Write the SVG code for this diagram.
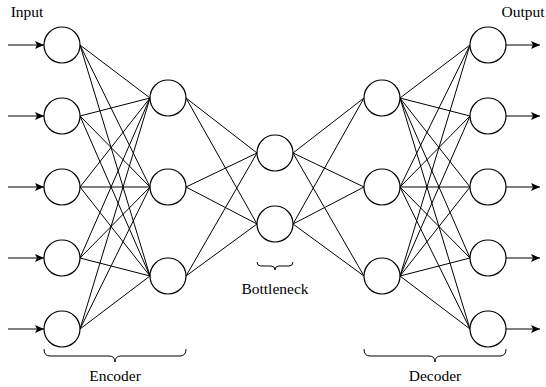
<svg xmlns="http://www.w3.org/2000/svg" width="546" height="387" viewBox="0 0 546 387">
<style>
.n{fill:#fff;stroke:#000;stroke-width:1.2}
.e{stroke:#000;stroke-width:1;fill:none}
.b{stroke:#000;stroke-width:1;fill:none}
.t{font-family:'Liberation Serif','Times New Roman',Times,'DejaVu Serif',serif;font-size:15.5px;fill:#000;text-anchor:middle}
</style>
<defs>
<marker id="a" markerWidth="10" markerHeight="8" refX="9" refY="4" orient="auto" markerUnits="userSpaceOnUse">
<path d="M0,0 L9,4 L0,8 L2,4 Z" fill="#000"/>
</marker>
</defs>
<g id="connectors">
<g class="e">
<path d="M8,45H44" marker-end="url(#a)"/>
<path d="M8,116H44" marker-end="url(#a)"/>
<path d="M8,187H44" marker-end="url(#a)"/>
<path d="M8,258H44" marker-end="url(#a)"/>
<path d="M8,329H44" marker-end="url(#a)"/>
<path d="M506,45H540" marker-end="url(#a)"/>
<path d="M506,116H540" marker-end="url(#a)"/>
<path d="M506,187H540" marker-end="url(#a)"/>
<path d="M506,258H540" marker-end="url(#a)"/>
<path d="M506,329H540" marker-end="url(#a)"/>
<path d="M80,45L150,98M80,45L150,187M80,45L150,276"/>
<path d="M80,116L150,98M80,116L150,187M80,116L150,276"/>
<path d="M80,187L150,98M80,187L150,187M80,187L150,276"/>
<path d="M80,258L150,98M80,258L150,187M80,258L150,276"/>
<path d="M80,329L150,98M80,329L150,187M80,329L150,276"/>
<path d="M186,98L257,153M186,98L257,224"/>
<path d="M186,187L257,153M186,187L257,224"/>
<path d="M186,276L257,153M186,276L257,224"/>
<path d="M293,153L364,98M293,153L364,187M293,153L364,276"/>
<path d="M293,224L364,98M293,224L364,187M293,224L364,276"/>
<path d="M400,98L470,45M400,98L470,116M400,98L470,187M400,98L470,258M400,98L470,329"/>
<path d="M400,187L470,45M400,187L470,116M400,187L470,187M400,187L470,258M400,187L470,329"/>
<path d="M400,276L470,45M400,276L470,116M400,276L470,187M400,276L470,258M400,276L470,329"/>
</g>
</g>
<g id="input-layer">
<circle class="n" cx="62" cy="45" r="18"/>
<circle class="n" cx="62" cy="116" r="18"/>
<circle class="n" cx="62" cy="187" r="18"/>
<circle class="n" cx="62" cy="258" r="18"/>
<circle class="n" cx="62" cy="329" r="18"/>
</g>
<g id="hidden-encoder">
<circle class="n" cx="168" cy="98" r="18"/>
<circle class="n" cx="168" cy="187" r="18"/>
<circle class="n" cx="168" cy="276" r="18"/>
</g>
<g id="bottleneck-layer">
<circle class="n" cx="275" cy="153" r="18"/>
<circle class="n" cx="275" cy="224" r="18"/>
</g>
<g id="hidden-decoder">
<circle class="n" cx="382" cy="98" r="18"/>
<circle class="n" cx="382" cy="187" r="18"/>
<circle class="n" cx="382" cy="276" r="18"/>
</g>
<g id="output-layer">
<circle class="n" cx="488" cy="45" r="18"/>
<circle class="n" cx="488" cy="116" r="18"/>
<circle class="n" cx="488" cy="187" r="18"/>
<circle class="n" cx="488" cy="258" r="18"/>
<circle class="n" cx="488" cy="329" r="18"/>
</g>
<g id="encoder-brace">
<path class="b" d="M44,349Q44,356 50,356L109,356Q115,356 115,362Q115,356 121,356L180,356Q186,356 186,349"/>
<text class="t" x="115" y="381">Encoder</text>
</g>
<g id="bottleneck-brace">
<path class="b" d="M257,262Q257,266 261,266L271,266Q275,266 275,270Q275,266 279,266L289,266Q293,266 293,262"/>
<text class="t" x="275" y="294">Bottleneck</text>
</g>
<g id="decoder-brace">
<path class="b" d="M364,349Q364,356 370,356L429,356Q435,356 435,362Q435,356 441,356L500,356Q506,356 506,349"/>
<text class="t" x="435" y="381">Decoder</text>
</g>
<g id="labels">
<text class="t" x="27" y="17">Input</text>
<text class="t" x="523" y="17">Output</text>
</g>
</svg>
